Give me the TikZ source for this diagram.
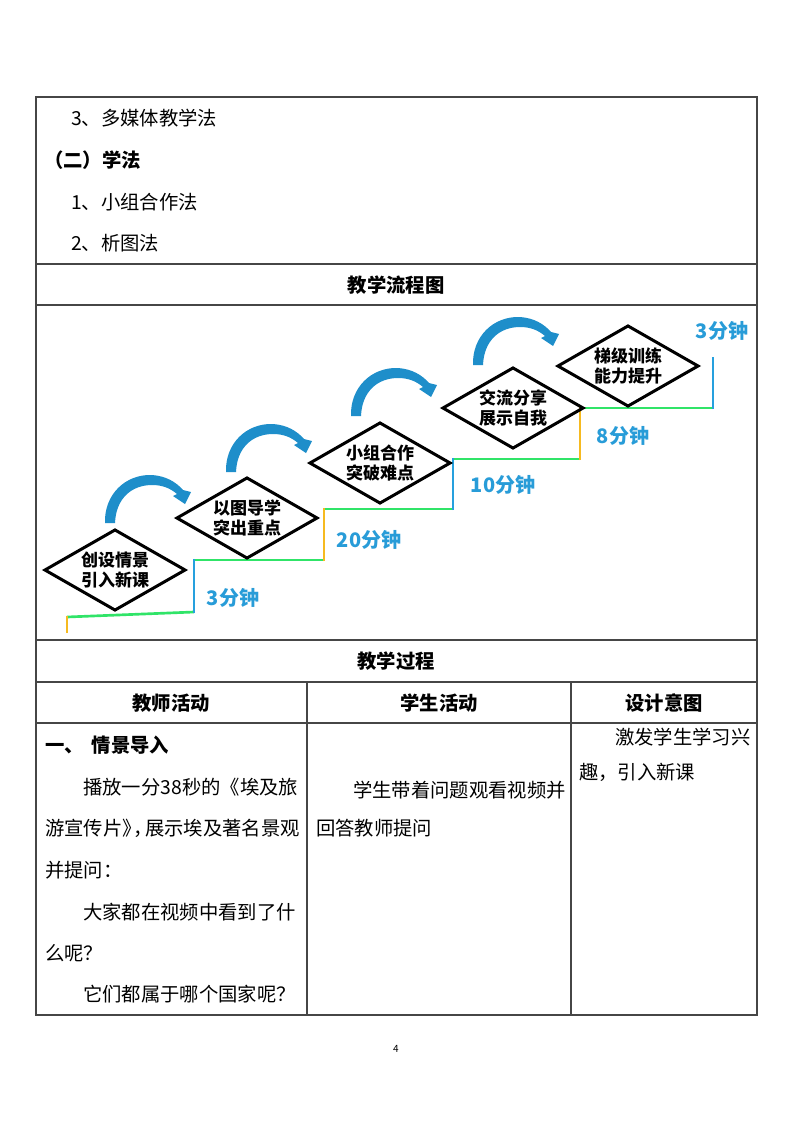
\documentclass[tikz,border=0pt]{standalone}
\usepackage{fontspec}
\setmainfont{Noto Sans CJK SC}
\usetikzlibrary{shapes.geometric}
\definecolor{arrowblue}{RGB}{30,142,202}
\definecolor{stairgreen}{RGB}{48,228,104}
\definecolor{stairyellow}{RGB}{246,186,32}
\definecolor{stairblue}{RGB}{38,160,222}
\definecolor{timeblue}{RGB}{40,156,216}
\definecolor{rulegray}{RGB}{70,70,70}
\tikzset{
    body/.style={anchor=west, inner sep=0pt, font=\fontsize{14.5}{17}\selectfont},
    head/.style={inner sep=0pt, font=\fontsize{14.5}{17}\selectfont\bfseries},
    stepbox/.style={diamond, aspect=1.7, draw=black, line width=2.25pt, inner sep=0pt,
        minimum width=106pt, minimum height=61pt, align=center,
        font=\fontsize{12.75}{15}\selectfont\bfseries},
    minutes/.style={text=timeblue, inner sep=0pt, font=\fontsize{15}{17}\selectfont\bfseries},
    rule/.style={draw=rulegray, line width=0.8pt},
    bendarrow/.pic={
        \fill[arrowblue] (-5,0) .. controls (-6,-28) and (15,-49) .. (42,-48)
            .. controls (56,-47) and (66,-41) .. (73,-33) -- (81,-31) -- (75,-19)
            -- (63,-27) -- (67,-29) .. controls (60,-35) and (52,-38) .. (42,-38)
            .. controls (22,-38) and (6,-25) .. (5,0) -- cycle;
    }
}
\begin{document}
\begin{tikzpicture}[x=0.75pt,y=-0.75pt]
    \useasboundingbox[fill=white] (0,0) rectangle (794,1123);
    \draw[rule] (36,97) rectangle (757,1015);
    \draw[rule] (36,264) -- (757,264);
    \draw[rule] (36,305) -- (757,305);
    \draw[rule] (36,640) -- (757,640);
    \draw[rule] (36,682) -- (757,682);
    \draw[rule] (36,723) -- (757,723);
    \draw[rule] (307,682) -- (307,1015);
    \draw[rule] (571,682) -- (571,1015);

    \node (m3) at (71,118) [body] {3、多媒体教学法};
    \node (xf) at (44,160) [body, font=\fontsize{14.5}{17}\selectfont\bfseries] {（二）学法};
    \node (x1) at (71,202) [body] {1、小组合作法};
    \node (x2) at (71,243) [body] {2、析图法};
    \node (lct) at (396,285) [head] {教学流程图};

    \draw[stairgreen, line width=2pt] (67,617) -- (194,612);
    \draw[stairgreen, line width=2pt] (194,560) -- (324,560);
    \draw[stairgreen, line width=2pt] (324,509) -- (453,509);
    \draw[stairgreen, line width=2pt] (453,459) -- (580,459);
    \draw[stairgreen, line width=2pt] (580,408) -- (713,408);
    \draw[stairyellow, line width=2pt] (67,633) -- (67,616);
    \draw[stairblue, line width=2pt] (194,613) -- (194,559);
    \draw[stairyellow, line width=2pt] (324,561) -- (324,508);
    \draw[stairblue, line width=2pt] (453,510) -- (453,458);
    \draw[stairyellow, line width=2pt] (580,460) -- (580,407);
    \draw[stairblue, line width=2pt] (713,409) -- (713,357);

    \node (s1) at (115,570) [stepbox] {创设情景\\引入新课};
    \node (s2) at (247,518) [stepbox] {以图导学\\突出重点};
    \node (s3) at (380,463) [stepbox] {小组合作\\突破难点};
    \node (s4) at (513,408) [stepbox] {交流分享\\展示自我};
    \node (s5) at (628,366) [stepbox] {梯级训练\\能力提升};

    \pic at (110,523) {bendarrow};
    \pic at (231,472) {bendarrow};
    \pic at (356,416) {bendarrow};
    \pic at (478,365) {bendarrow};

    \node (t1) at (233,598) [minutes] {3分钟};
    \node (t2) at (369,540) [minutes] {20分钟};
    \node (t3) at (503,485) [minutes] {10分钟};
    \node (t4) at (623,436) [minutes] {8分钟};
    \node (t5) at (722,331) [minutes] {3分钟};

    \node (gc) at (396,661) [head] {教学过程};
    \node (h1) at (171,703) [head] {教师活动};
    \node (h2) at (439,703) [head] {学生活动};
    \node (h3) at (664,703) [head] {设计意图};

    \node (a0) at (45,745) [body, font=\fontsize{14.5}{17}\selectfont\bfseries] {一、\hspace{6pt}情景导入};
    \node (a1) at (83,787) [body] {播放一分38秒的《埃及旅};
    \node (a2) at (45,828) [body] {游宣传片》\kern-6pt，\kern-6pt展示埃及著名景观};
    \node (a3) at (45,870) [body] {并提问：};
    \node (a4) at (83,912) [body] {大家都在视频中看到了什};
    \node (a5) at (45,953) [body] {么呢？};
    \node (a6) at (83,994) [body] {它们都属于哪个国家呢？};

    \node (b1) at (353,790) [body] {学生带着问题观看视频并};
    \node (b2) at (316,828) [body] {回答教师提问};

    \node (c1) at (615,737) [body] {激发学生学习兴};
    \node (c2) at (579,772) [body] {趣，引入新课};

    \node (pg) at (396,1049) [font=\fontsize{7.5}{9}\selectfont, inner sep=0pt] {4};
\end{tikzpicture}
\end{document}
